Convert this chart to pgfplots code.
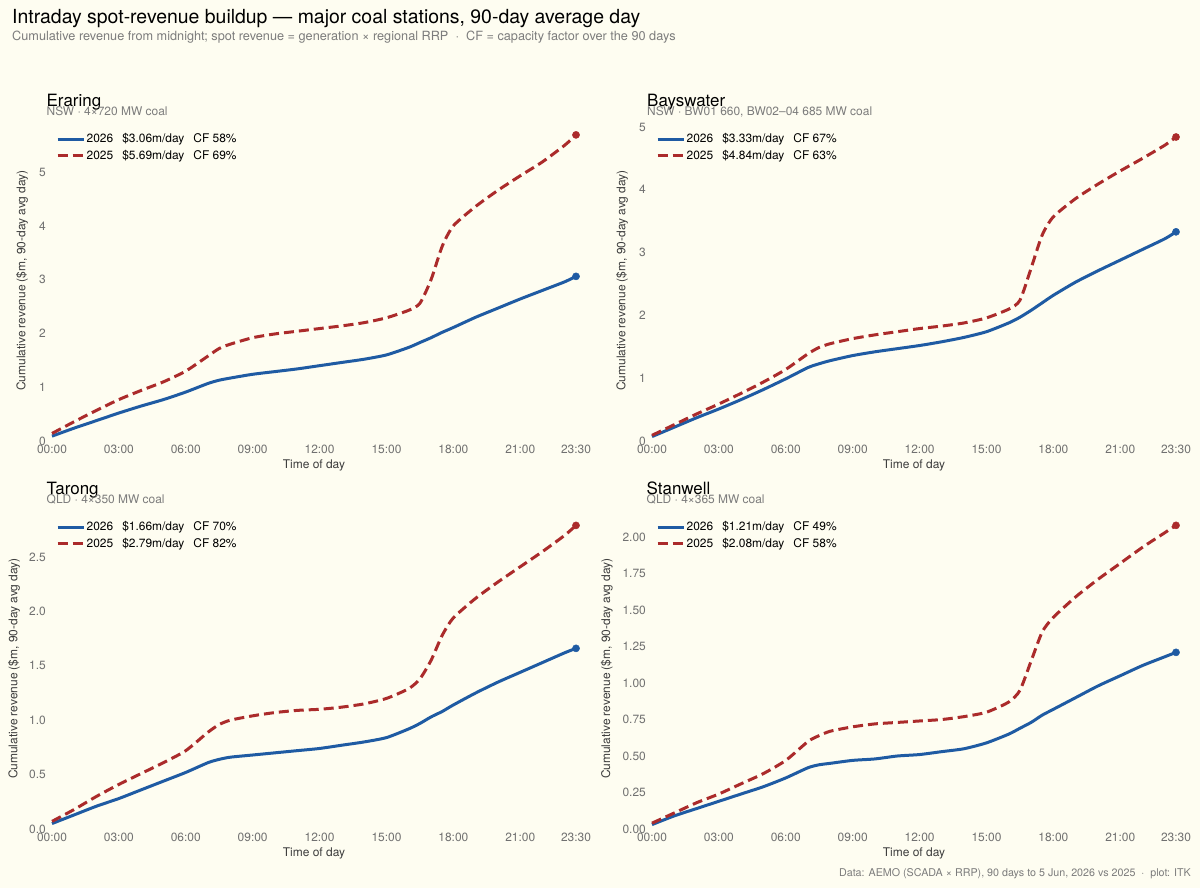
\documentclass[border=0pt]{standalone}
\usepackage{fontspec}
\setmainfont{TeX Gyre Heros}
\usepackage{pgfplots}
\usepackage{pgfplotstable}
\pgfplotsset{compat=1.18}

\definecolor{bg}{HTML}{FEFDF1}
\definecolor{c26}{HTML}{1F5BA3}
\definecolor{c25}{HTML}{AB2B2B}
\definecolor{tickgray}{HTML}{707070}
\definecolor{labgray}{HTML}{3C3C3C}
\definecolor{subgray}{HTML}{7C7C7C}

% hour, 2026, 2025
\pgfplotstableread{
h y26 y25
0 0.09 0.14
1 0.24 0.36
2 0.38 0.57
3 0.52 0.77
4 0.65 0.94
5 0.77 1.10
6 0.91 1.30
7 1.07 1.58
7.5 1.13 1.72
8 1.17 1.80
9 1.24 1.92
10 1.29 1.99
11 1.34 2.04
12 1.40 2.09
13 1.46 2.14
14 1.52 2.20
15 1.60 2.29
16 1.74 2.43
16.5 1.83 2.56
17 1.92 3.00
17.5 2.02 3.62
18 2.11 4.00
19 2.30 4.36
20 2.47 4.66
21 2.64 4.93
22 2.80 5.19
23 2.96 5.50
23.5 3.06 5.69
}\eraring

\pgfplotstableread{
h y26 y25
0 0.07 0.09
1 0.22 0.26
2 0.37 0.43
3 0.51 0.59
4 0.66 0.76
5 0.82 0.94
6 0.99 1.14
7 1.17 1.39
7.5 1.23 1.49
8 1.28 1.55
9 1.36 1.63
10 1.42 1.69
11 1.47 1.74
12 1.52 1.79
13 1.58 1.83
14 1.65 1.88
15 1.74 1.96
16 1.88 2.10
16.5 1.97 2.24
17 2.08 2.75
17.5 2.20 3.28
18 2.32 3.57
19 2.53 3.86
20 2.71 4.09
21 2.88 4.30
22 3.05 4.50
23 3.22 4.71
23.5 3.33 4.84
}\bayswater

\pgfplotstableread{
h y26 y25
0 0.05 0.07
1 0.13 0.18
2 0.21 0.30
3 0.28 0.41
4 0.36 0.51
5 0.44 0.61
6 0.52 0.72
7 0.61 0.89
7.5 0.64 0.96
8 0.66 1.00
9 0.68 1.04
10 0.70 1.07
11 0.72 1.09
12 0.74 1.10
13 0.77 1.12
14 0.80 1.15
15 0.84 1.20
16 0.92 1.29
16.5 0.97 1.38
17 1.03 1.55
17.5 1.08 1.78
18 1.14 1.94
19 1.25 2.12
20 1.35 2.27
21 1.44 2.41
22 1.53 2.55
23 1.62 2.70
23.5 1.66 2.79
}\tarong

\pgfplotstableread{
h y26 y25
0 0.03 0.04
1 0.09 0.11
2 0.14 0.18
3 0.19 0.24
4 0.24 0.31
5 0.29 0.38
6 0.35 0.47
7 0.42 0.60
7.5 0.44 0.64
8 0.45 0.67
9 0.47 0.70
10 0.48 0.72
11 0.50 0.73
12 0.51 0.74
13 0.53 0.75
14 0.55 0.77
15 0.59 0.80
16 0.65 0.87
16.5 0.69 0.95
17 0.73 1.15
17.5 0.78 1.35
18 0.82 1.45
19 0.90 1.59
20 0.98 1.71
21 1.05 1.82
22 1.12 1.93
23 1.18 2.03
23.5 1.21 2.08
}\stanwell

\pgfplotsset{
  panel/.style={
    scale only axis, width=524bp, height=321bp,
    xmin=0, xmax=23.5, ymin=0, clip=false,
    /pgf/number format/assume math mode=true,
    axis line style={draw=none}, tick style={draw=none}, major tick length=0pt,
    xtick={0,3,6,9,12,15,18,21,23.5},
    xticklabels={00:00,03:00,06:00,09:00,12:00,15:00,18:00,21:00,23:30},
    tick label style={font=\fontsize{12}{13}\selectfont, color=tickgray},
    xticklabel style={anchor=north, inner sep=0pt, yshift=-4bp},
    yticklabel style={anchor=east, inner sep=0pt, xshift=-6bp},
    label style={font=\fontsize{12}{13}\selectfont, color=labgray},
    xlabel={Time of day},
    xlabel style={at={(axis description cs:0.5,-0.0748)}, anchor=center},
    ylabel={Cumulative revenue (\$m, 90-day avg day)},
    legend style={at={(axis description cs:0,1)}, anchor=north west,
      xshift=1bp, yshift=-10bp, draw=none, fill=none,
      font=\fontsize{12}{13}\selectfont, row sep=2.5bp,
      nodes={inner sep=1.5bp}},
    legend cell align=left,
    legend image code/.code={\draw[##1] (0bp,0bp) -- (26bp,0bp);},
  },
  l26/.style={c26, line width=3bp, smooth, tension=0.4},
  l25/.style={c25, line width=3bp, dash pattern=on 10bp off 5bp, smooth, tension=0.4},
  d26/.style={only marks, mark=*, mark size=3.6bp, c26, mark options={draw=c26, fill=c26, solid}},
  d25/.style={only marks, mark=*, mark size=3.6bp, c25, mark options={draw=c25, fill=c25, solid}},
}
\newcommand{\gap}{\hspace{9bp}}

\begin{document}
\begin{tikzpicture}[x=1bp,y=1bp]
\path[fill=bg, use as bounding box] (0,0) rectangle (1200,888);

\node[anchor=base west, inner sep=0pt] at (12,864) {\fontsize{19.5}{22}\selectfont Intraday spot-revenue buildup — major coal stations, 90-day average day};
\node[anchor=base west, inner sep=0pt, text=subgray] at (12,847) {\fontsize{12.75}{14}\selectfont Cumulative revenue from midnight; spot revenue = generation × regional RRP\ \ ·\ \ CF = capacity factor over the 90 days};

% ---------- Eraring ----------
\begin{axis}[panel, at={(52bp,447bp)}, anchor=south west, ymax=5.967,
  ytick={0,1,2,3,4,5},
  ylabel style={at={(axis description cs:-0.0573,0.5)}, anchor=center}]
\addplot[l26] table[x=h,y=y26]{\eraring};
\addlegendentry{2026\gap\$3.06m/day\gap CF 58\%}
\addplot[l25] table[x=h,y=y25]{\eraring};
\addlegendentry{2025\gap\$5.69m/day\gap CF 69\%}
\addplot[d26, forget plot] coordinates {(23.5,3.06)};
\addplot[d25, forget plot] coordinates {(23.5,5.69)};
\end{axis}
\node[anchor=base west, inner sep=0pt] at (46.5,781) {\fontsize{17}{18}\selectfont Eraring};
\node[anchor=base west, inner sep=0pt, text=subgray] at (46.5,772) {\fontsize{12}{13}\selectfont NSW · 4×720 MW coal};

% ---------- Bayswater ----------
\begin{axis}[panel, at={(652bp,447bp)}, anchor=south west, ymax=5.111,
  ytick={0,1,2,3,4,5},
  ylabel style={at={(axis description cs:-0.0573,0.5)}, anchor=center}]
\addplot[l26] table[x=h,y=y26]{\bayswater};
\addlegendentry{2026\gap\$3.33m/day\gap CF 67\%}
\addplot[l25] table[x=h,y=y25]{\bayswater};
\addlegendentry{2025\gap\$4.84m/day\gap CF 63\%}
\addplot[d26, forget plot] coordinates {(23.5,3.33)};
\addplot[d25, forget plot] coordinates {(23.5,4.84)};
\end{axis}
\node[anchor=base west, inner sep=0pt] at (647,781) {\fontsize{17}{18}\selectfont Bayswater};
\node[anchor=base west, inner sep=0pt, text=subgray] at (647,772) {\fontsize{12}{13}\selectfont NSW · BW01 660, BW02–04 685 MW coal};

% ---------- Tarong ----------
\begin{axis}[panel, at={(52bp,59bp)}, anchor=south west, ymax=2.950,
  ytick={0,0.5,1,1.5,2,2.5},
  yticklabel={\pgfmathprintnumber[fixed,fixed zerofill,precision=1]{\tick}},
  ylabel style={at={(axis description cs:-0.0725,0.5)}, anchor=center}]
\addplot[l26] table[x=h,y=y26]{\tarong};
\addlegendentry{2026\gap\$1.66m/day\gap CF 70\%}
\addplot[l25] table[x=h,y=y25]{\tarong};
\addlegendentry{2025\gap\$2.79m/day\gap CF 82\%}
\addplot[d26, forget plot] coordinates {(23.5,1.66)};
\addplot[d25, forget plot] coordinates {(23.5,2.79)};
\end{axis}
\node[anchor=base west, inner sep=0pt] at (46.5,393) {\fontsize{17}{18}\selectfont Tarong};
\node[anchor=base west, inner sep=0pt, text=subgray] at (46.5,384) {\fontsize{12}{13}\selectfont QLD · 4×350 MW coal};

% ---------- Stanwell ----------
\begin{axis}[panel, at={(652bp,59bp)}, anchor=south west, ymax=2.199,
  ytick={0,0.25,0.5,0.75,1,1.25,1.5,1.75,2},
  yticklabel={\pgfmathprintnumber[fixed,fixed zerofill,precision=2]{\tick}},
  ylabel style={at={(axis description cs:-0.086,0.5)}, anchor=center}]
\addplot[l26] table[x=h,y=y26]{\stanwell};
\addlegendentry{2026\gap\$1.21m/day\gap CF 49\%}
\addplot[l25] table[x=h,y=y25]{\stanwell};
\addlegendentry{2025\gap\$2.08m/day\gap CF 58\%}
\addplot[d26, forget plot] coordinates {(23.5,1.21)};
\addplot[d25, forget plot] coordinates {(23.5,2.08)};
\end{axis}
\node[anchor=base west, inner sep=0pt] at (646.5,393) {\fontsize{17}{18}\selectfont Stanwell};
\node[anchor=base west, inner sep=0pt, text=subgray] at (646.5,384) {\fontsize{12}{13}\selectfont QLD · 4×365 MW coal};

\node[anchor=base east, inner sep=0pt, text=subgray] at (1191,11.5) {\fontsize{10.75}{12}\selectfont Data: AEMO (SCADA × RRP), 90 days to 5 Jun, 2026 vs 2025\ \ ·\ \ plot: ITK};
\end{tikzpicture}
\end{document}
